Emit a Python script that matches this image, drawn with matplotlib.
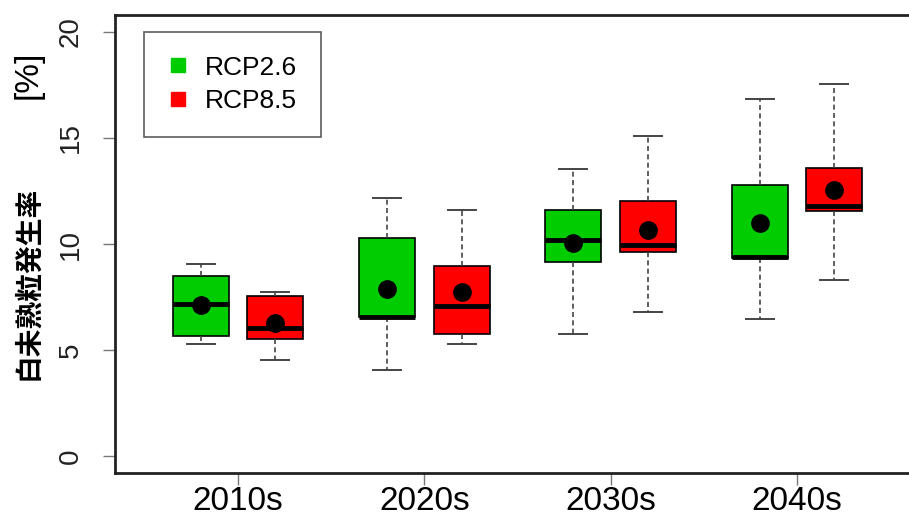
import matplotlib
matplotlib.use("Agg")
import matplotlib.pyplot as plt
from matplotlib.lines import Line2D

plt.rcParams['font.family'] = ['Liberation Sans', 'Noto Sans CJK JP']

# data
decades = ['2010s', '2020s', '2030s', '2040s']
scenarios = ['RCP2.6', 'RCP8.5']
colors = ['#00CC00', '#FF0000']

# per scenario, per decade
whis_lo = [[5.27, 4.05, 5.74, 6.48], [4.52, 5.27, 6.81, 8.30]]
q1 = [[5.65, 6.57, 9.14, 9.33], [5.50, 5.74, 9.63, 11.56]]
med = [[7.15, 6.57, 10.18, 9.38], [6.02, 7.07, 9.96, 11.81]]
q3 = [[8.47, 10.27, 11.62, 12.80], [7.53, 8.96, 12.03, 13.57]]
whis_hi = [[9.04, 12.17, 13.55, 16.83], [7.72, 11.62, 15.07, 17.54]]
means = [[7.12, 7.90, 10.04, 10.98], [6.26, 7.73, 10.68, 12.53]]

offsets = [-0.2, 0.2]

fig = plt.figure(figsize=(9.09, 5.2), dpi=100)
ax = fig.add_axes([115 / 909, 1 - 473 / 520, 805 / 909, 458 / 520])

for s in range(len(scenarios)):
    stats = []
    for d in range(len(decades)):
        stats.append(dict(whislo=whis_lo[s][d], q1=q1[s][d], med=med[s][d],
                          q3=q3[s][d], whishi=whis_hi[s][d], mean=means[s][d],
                          fliers=[]))
    pos = [d + 1 + offsets[s] for d in range(len(decades))]
    ax.bxp(stats, positions=pos, widths=0.30, capwidths=0.15,
           patch_artist=True, showmeans=True, showfliers=False,
           manage_ticks=False,
           boxprops=dict(facecolor=colors[s], edgecolor='black', linewidth=1.2),
           medianprops=dict(color='black', linewidth=3.5),
           whiskerprops=dict(color='#444444', linestyle=(0, (3, 2)), linewidth=1.2),
           capprops=dict(color='#444444', linewidth=1.4),
           meanprops=dict(marker='o', markerfacecolor='black',
                          markeredgecolor='black', markersize=12.5))

ax.set_xlim(0.34, 4.66)
ax.set_ylim(-0.8, 20.8)
ax.set_xticks(range(1, len(decades) + 1))
ax.set_xticklabels(decades, fontsize=24)
ax.set_yticks([0, 5, 10, 15, 20])
ax.set_yticklabels(['0', '5', '10', '15', '20'], fontsize=20,
                   rotation=90, va='center', color='#222222')
ax.tick_params(axis='both', length=8.5, width=1, color='#777777')
ax.tick_params(axis='x', pad=0.5)
ax.tick_params(axis='y', pad=14)

for sp in ax.spines.values():
    sp.set_linewidth(2)
    sp.set_color('#222222')

handles = [Line2D([], [], marker='s', linestyle='none', markersize=10,
                  markerfacecolor=c, markeredgecolor=c) for c in colors]
leg = ax.legend(handles, scenarios, loc='upper left',
                bbox_to_anchor=(0.036, 0.963), borderaxespad=0,
                fontsize=19, frameon=True, fancybox=False,
                handlelength=0.8, handletextpad=0.6, borderpad=0.9,
                labelspacing=0.37)
leg.get_frame().set_edgecolor('#333333')
leg.get_frame().set_linewidth(1.2)

fig.text(28 / 909, 1 - 283 / 520, '白未熟粒発生率', rotation=90,
         ha='center', va='center', fontsize=20, fontweight='bold',
         family=['Noto Sans CJK JP'])
fig.text(28 / 909, 1 - 75 / 520, '[%]', rotation=90,
         ha='center', va='center', fontsize=24)

fig.savefig('out.png', dpi=100)
